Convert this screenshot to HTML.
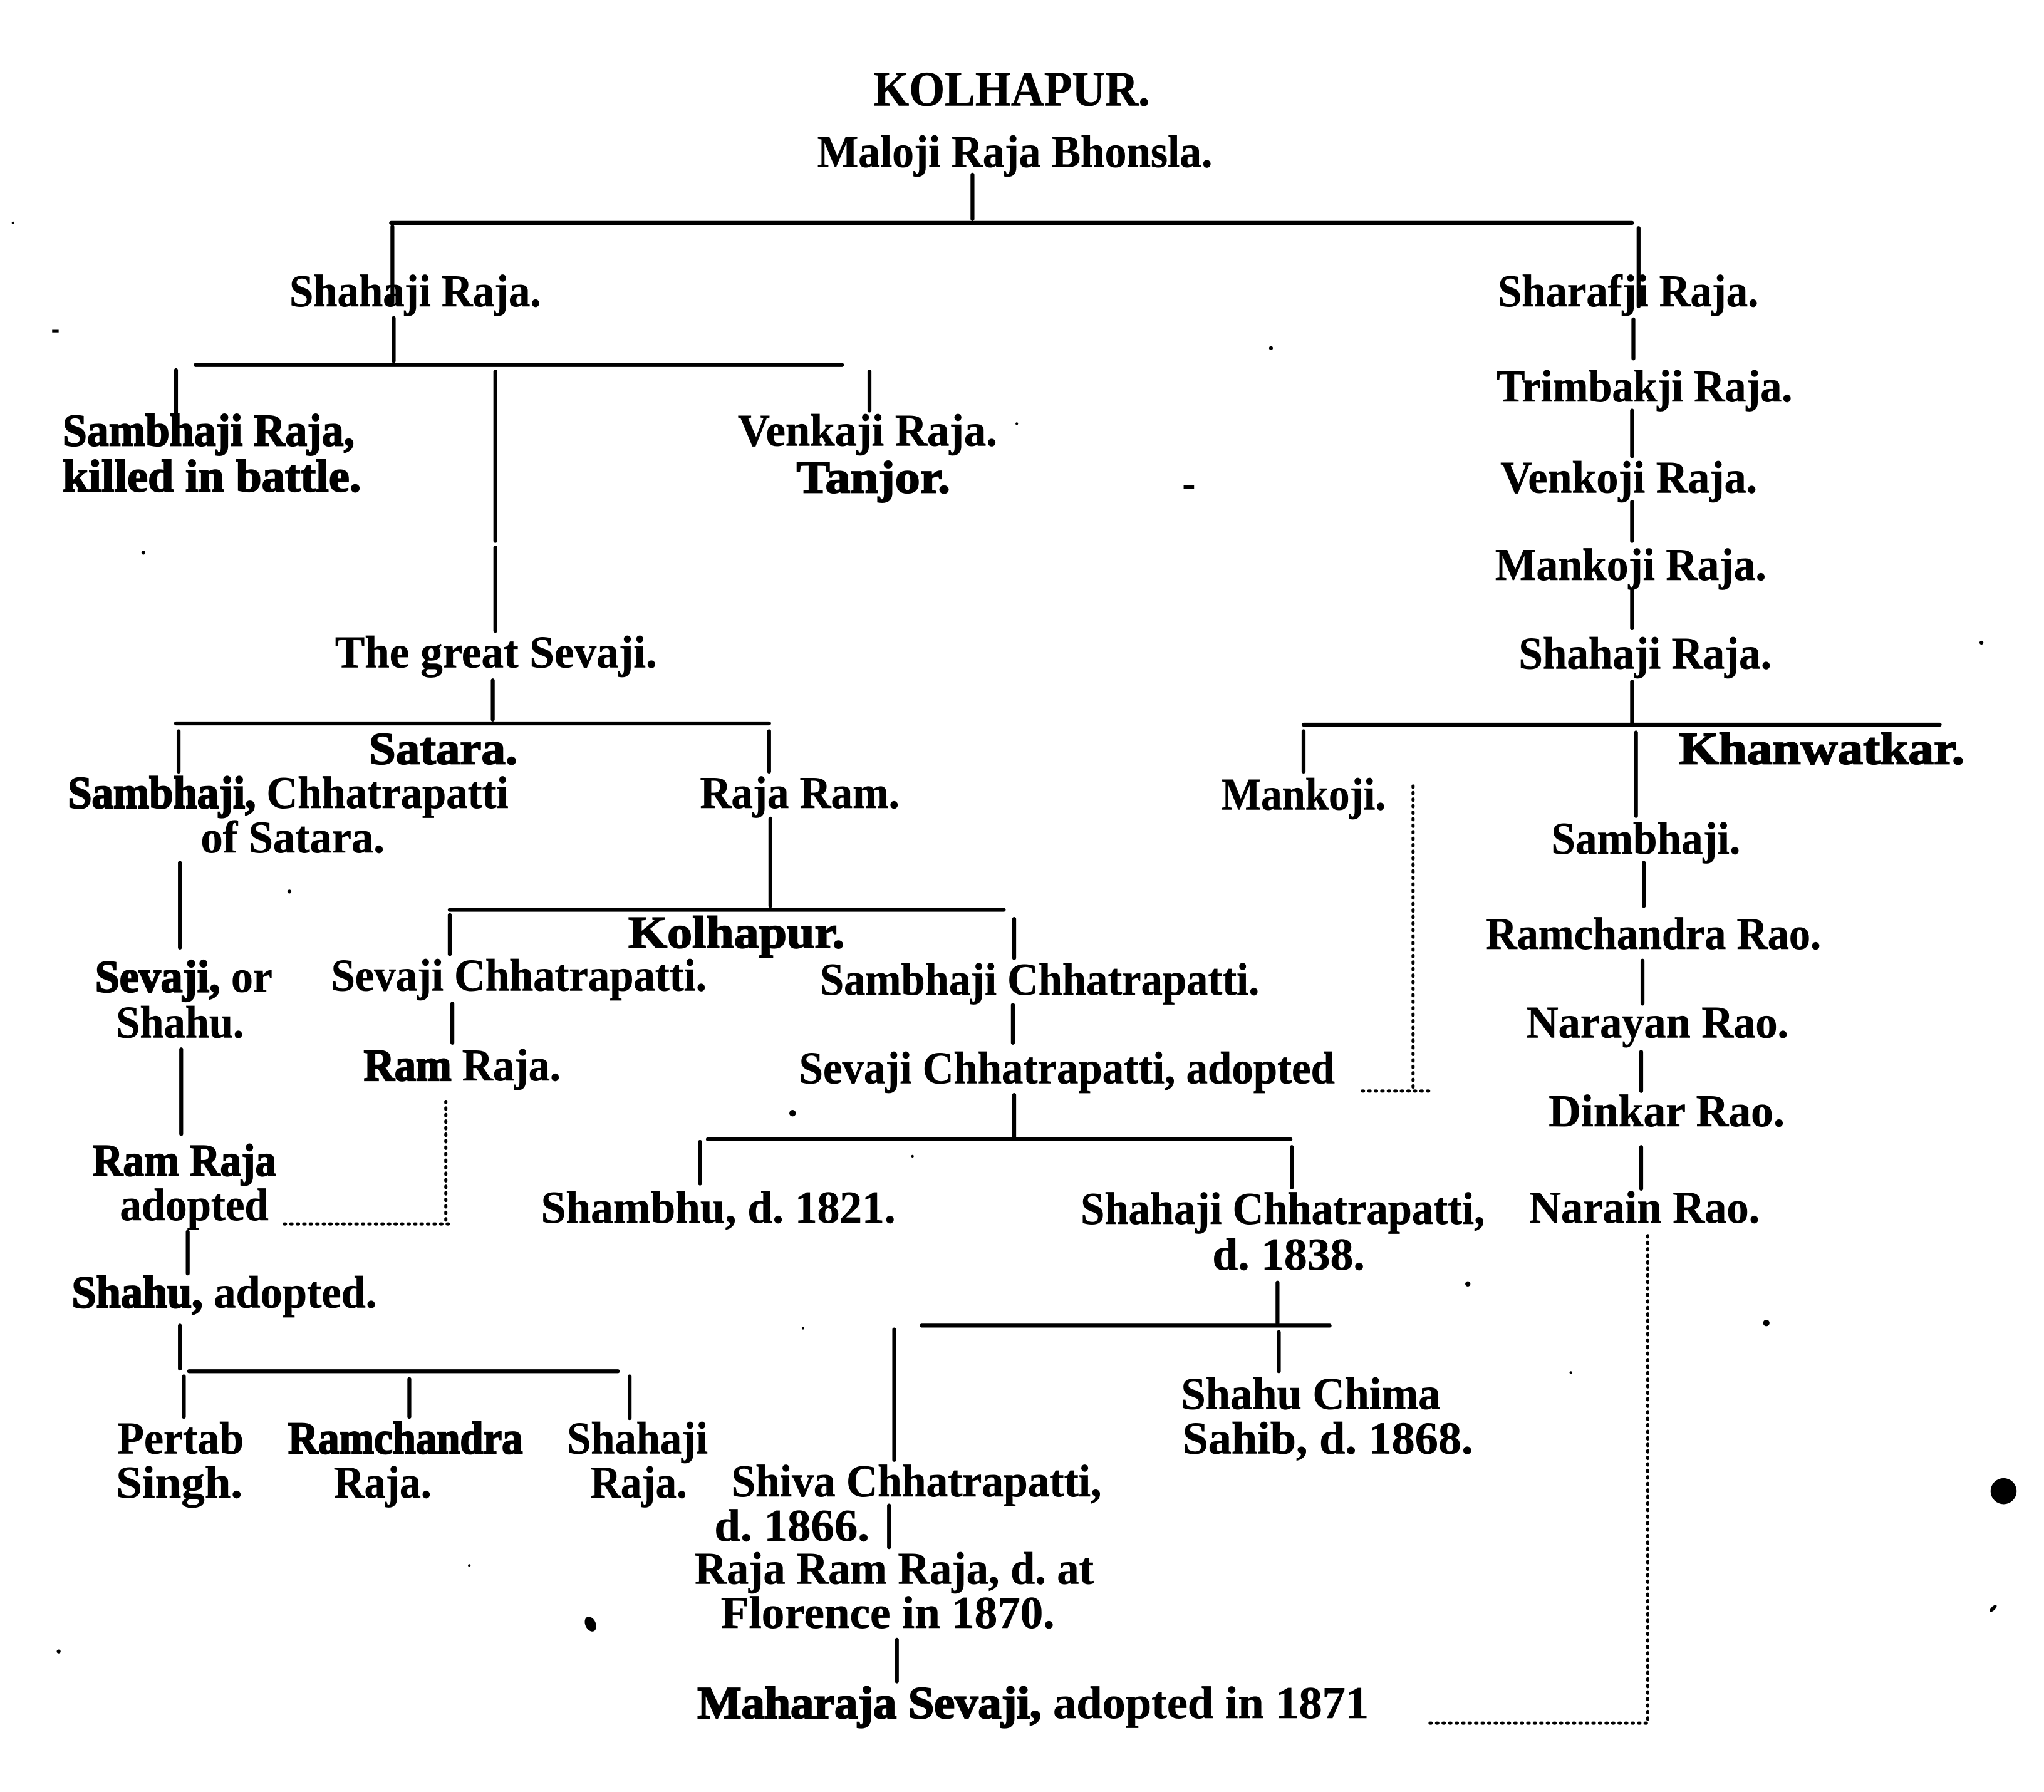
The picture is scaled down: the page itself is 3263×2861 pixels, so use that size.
<!DOCTYPE html>
<html><head><meta charset="utf-8"><style>
html,body{margin:0;padding:0;background:#fff}
svg{display:block}
text{font-family:"Liberation Serif",serif;font-weight:bold;font-size:35px;fill:#000;stroke:#000;stroke-width:.3px}
.h{stroke:#000;stroke-width:.9px}
tspan.h{stroke-width:1.1px}
</style></head><body>
<svg xmlns="http://www.w3.org/2000/svg" width="3263" height="2861" viewBox="0 0 1568 1374.8" text-rendering="geometricPrecision">
<rect width="1568" height="1375" fill="#fff"/>
<g>
<text x="670" y="81" textLength="212" lengthAdjust="spacingAndGlyphs" style="font-size:38px">KOLHAPUR.</text>
<text x="627" y="128" textLength="303" lengthAdjust="spacingAndGlyphs">Maloji Raja Bhonsla.</text>
<text x="222" y="235" textLength="193" lengthAdjust="spacingAndGlyphs">Shahaji Raja.</text>
<text x="1149" y="235" textLength="200" lengthAdjust="spacingAndGlyphs">Sharafji Raja.</text>
<text x="1148" y="308" textLength="227" lengthAdjust="spacingAndGlyphs">Trimbakji Raja.</text>
<text x="48" y="342" textLength="224" lengthAdjust="spacingAndGlyphs" class="h">Sambhaji Raja,</text>
<text x="48" y="377" textLength="229" lengthAdjust="spacingAndGlyphs" class="h">killed in battle.</text>
<text x="566" y="342" textLength="199" lengthAdjust="spacingAndGlyphs">Venkaji Raja.</text>
<text x="611" y="378" textLength="118" lengthAdjust="spacingAndGlyphs" class="h">Tanjor.</text>
<text x="1151" y="378" textLength="197" lengthAdjust="spacingAndGlyphs">Venkoji Raja.</text>
<text x="1147" y="445" textLength="208" lengthAdjust="spacingAndGlyphs">Mankoji Raja.</text>
<text x="257" y="512" textLength="247" lengthAdjust="spacingAndGlyphs">The great Sevaji.</text>
<text x="1165" y="513" textLength="194" lengthAdjust="spacingAndGlyphs">Shahaji Raja.</text>
<text x="283" y="586" textLength="114" lengthAdjust="spacingAndGlyphs" class="h">Satara.</text>
<text x="1288" y="586" textLength="219" lengthAdjust="spacingAndGlyphs" class="h">Khanwatkar.</text>
<text x="52" y="620" textLength="338" lengthAdjust="spacingAndGlyphs"><tspan class="h">Sambhaji,</tspan> Chhatrapatti</text>
<text x="154" y="654" textLength="141" lengthAdjust="spacingAndGlyphs">of Satara.</text>
<text x="537" y="620" textLength="153" lengthAdjust="spacingAndGlyphs">Raja Ram.</text>
<text x="937" y="621" textLength="126" lengthAdjust="spacingAndGlyphs">Mankoji.</text>
<text x="1190" y="655" textLength="145" lengthAdjust="spacingAndGlyphs">Sambhaji.</text>
<text x="482" y="727" textLength="166" lengthAdjust="spacingAndGlyphs" class="h">Kolhapur.</text>
<text x="1140" y="728" textLength="257" lengthAdjust="spacingAndGlyphs">Ramchandra Rao.</text>
<text x="73" y="761" textLength="136" lengthAdjust="spacingAndGlyphs"><tspan class="h">Sevaji,</tspan> or</text>
<text x="89" y="796" textLength="98" lengthAdjust="spacingAndGlyphs">Shahu.</text>
<text x="254" y="760" textLength="288" lengthAdjust="spacingAndGlyphs">Sevaji Chhatrapatti.</text>
<text x="629" y="763" textLength="337" lengthAdjust="spacingAndGlyphs">Sambhaji Chhatrapatti.</text>
<text x="1171" y="796" textLength="201" lengthAdjust="spacingAndGlyphs">Narayan Rao.</text>
<text x="279" y="829" textLength="151" lengthAdjust="spacingAndGlyphs"><tspan class="h">Ram</tspan> Raja.</text>
<text x="613" y="831" textLength="411" lengthAdjust="spacingAndGlyphs">Sevaji Chhatrapatti, adopted</text>
<text x="1188" y="864" textLength="181" lengthAdjust="spacingAndGlyphs">Dinkar Rao.</text>
<text x="71" y="902" textLength="141" lengthAdjust="spacingAndGlyphs" class="h">Ram Raja</text>
<text x="92" y="936" textLength="114" lengthAdjust="spacingAndGlyphs">adopted</text>
<text x="415" y="938" textLength="272" lengthAdjust="spacingAndGlyphs">Shambhu, d. 1821.</text>
<text x="829" y="939" textLength="310" lengthAdjust="spacingAndGlyphs">Shahaji Chhatrapatti,</text>
<text x="930" y="974" textLength="117" lengthAdjust="spacingAndGlyphs">d. 1838.</text>
<text x="1173" y="938" textLength="177" lengthAdjust="spacingAndGlyphs">Narain Rao.</text>
<text x="55" y="1003" textLength="234" lengthAdjust="spacingAndGlyphs"><tspan class="h">Shahu,</tspan> adopted.</text>
<text x="906" y="1081" textLength="199" lengthAdjust="spacingAndGlyphs">Shahu Chima</text>
<text x="907" y="1115" textLength="223" lengthAdjust="spacingAndGlyphs">Sahib, d. 1868.</text>
<text x="90" y="1115" textLength="97" lengthAdjust="spacingAndGlyphs">Pertab</text>
<text x="89" y="1149" textLength="97" lengthAdjust="spacingAndGlyphs">Singh.</text>
<text x="221" y="1115" textLength="180" lengthAdjust="spacingAndGlyphs"><tspan class="h">Ramchandra</tspan></text>
<text x="256" y="1149" textLength="75" lengthAdjust="spacingAndGlyphs">Raja.</text>
<text x="435" y="1115" textLength="108" lengthAdjust="spacingAndGlyphs">Shahaji</text>
<text x="453" y="1149" textLength="74" lengthAdjust="spacingAndGlyphs">Raja.</text>
<text x="561" y="1148" textLength="284" lengthAdjust="spacingAndGlyphs">Shiva Chhatrapatti,</text>
<text x="548" y="1182" textLength="119" lengthAdjust="spacingAndGlyphs">d. 1866.</text>
<text x="533" y="1215" textLength="306" lengthAdjust="spacingAndGlyphs">Raja Ram Raja, d. at</text>
<text x="553" y="1249" textLength="256" lengthAdjust="spacingAndGlyphs">Florence in 1870.</text>
<text x="535" y="1318" textLength="515" lengthAdjust="spacingAndGlyphs"><tspan class="h">Maharaja Sevaji,</tspan> adopted in 1871</text>
</g>
<g stroke="#000" stroke-width="3" stroke-linecap="round" fill="none">
<path d="M746 134V168M300 171H1252M301 174V232M1257 175V235M302 244V277"/>
<path d="M150 280H646M135 284V317M380 285V415M380 420V484M667 285V315"/>
<path d="M1253 245V275M1252 315V350M1252 385V415M1252 452V482M1252 523V555"/>
<path d="M1000 556H1488M378 522V552M135 555H590M137 561V592M590 561V592M1000 561V592"/>
<path d="M1255 562V626M1261 662V695M1260 737V770M1259 807V837M1259 880V912"/>
<path d="M591 628V695M138 662V727M345 698H770M345 702V732M778 705V735M347 770V800M777 771V800"/>
<path d="M139 805V870M778 840V872M543 874H990M537 876V908M991 880V911M144 945V977"/>
<path d="M138 1017V1050M145 1052H474M141 1056V1087M314 1058V1087M483 1056V1088"/>
<path d="M980 984V1015M707 1017H1020M686 1020V1120M981 1022V1052M682 1155V1187M688 1258V1290"/>
</g>
<g stroke="#000" stroke-width="2.4" stroke-dasharray="1 4" stroke-linecap="round" fill="none">
<path d="M1084 603V835M1045 837H1100M342 845V938M218 939H345M1264 948V1322M1097 1322H1265"/>
</g>
<g fill="#000">
<circle cx="1537" cy="1144" r="10"/>
<ellipse cx="453" cy="1246" rx="4" ry="6" transform="rotate(-25 453 1246)"/>
<circle cx="1355" cy="1015" r="2.5"/>
<rect x="908" y="372" width="8" height="3"/>
<circle cx="608" cy="854" r="2.5"/>
<circle cx="1126" cy="985" r="2"/>
<circle cx="222" cy="684" r="1.5"/>
<circle cx="975" cy="267" r="1.5"/>
<circle cx="110" cy="424" r="1.5"/>
<circle cx="780" cy="325" r="1"/>
<circle cx="45" cy="1267" r="1.5"/>
<rect x="40" y="253" width="5" height="2"/>
<circle cx="1520" cy="493" r="1.5"/>
<circle cx="10" cy="171" r="1"/>
<ellipse cx="1529" cy="1234" rx="3.5" ry="1.5" transform="rotate(-45 1529 1234)"/>
<circle cx="700" cy="887" r="1"/>
<circle cx="1205" cy="1053" r="1"/>
<circle cx="360" cy="1201" r="1"/>
<circle cx="616" cy="1019" r="1"/>
</g>
</svg>
</body></html>
